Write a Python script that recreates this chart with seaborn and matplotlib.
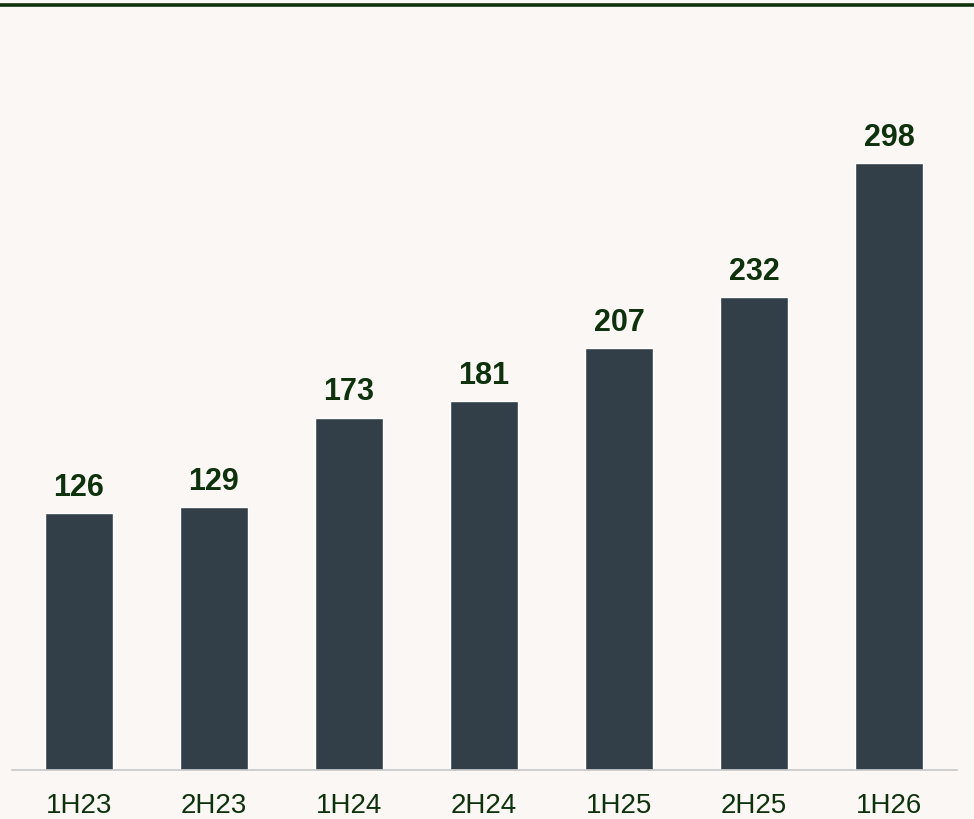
import pandas as pd
import seaborn as sns
import matplotlib.pyplot as plt
from matplotlib.lines import Line2D

# values
periods = ["1H23", "2H23", "1H24", "2H24", "1H25", "2H25", "1H26"]
values = [126, 129, 173, 181, 207, 232, 298]

df = pd.DataFrame({"period": periods, "value": values})

bg = "#FBF7F4"
bar_color = "#333F48"
green = "#0E320E"

sns.set_theme(style="white")
plt.rcParams["font.family"] = ["Liberation Sans", "DejaVu Sans"]

fig = plt.figure(figsize=(9.74, 8.2), dpi=100, facecolor=bg)
ax = fig.add_axes([11.5 / 974, 49 / 820, 945 / 974, 761 / 820])
ax.set_facecolor(bg)

sns.barplot(data=df, x="period", y="value", color=bar_color, width=0.5,
            saturation=1, ax=ax)

ax.set_xlim(-0.5, len(periods) - 0.5)
ax.set_ylim(0, 761 / 2.037)

for i, v in enumerate(values):
    ax.annotate(str(v), (i, v), xytext=(0, 8), textcoords="offset points",
                ha="center", va="bottom", fontsize=22, fontweight="bold",
                color=green)

ax.set_xlabel("")
ax.set_ylabel("")
ax.set_yticks([])
ax.tick_params(axis="x", length=0, pad=16, labelsize=20, labelcolor=green)
for side in ["top", "right", "left"]:
    ax.spines[side].set_visible(False)
ax.spines["bottom"].set_color("#C8C8C8")
ax.spines["bottom"].set_linewidth(1.2)

# dark green rule across the top
fig.add_artist(Line2D([0, 1], [814 / 820, 814 / 820], color=green,
                      linewidth=2.6, transform=fig.transFigure))

plt.savefig("out.png", dpi=100, facecolor=bg)
